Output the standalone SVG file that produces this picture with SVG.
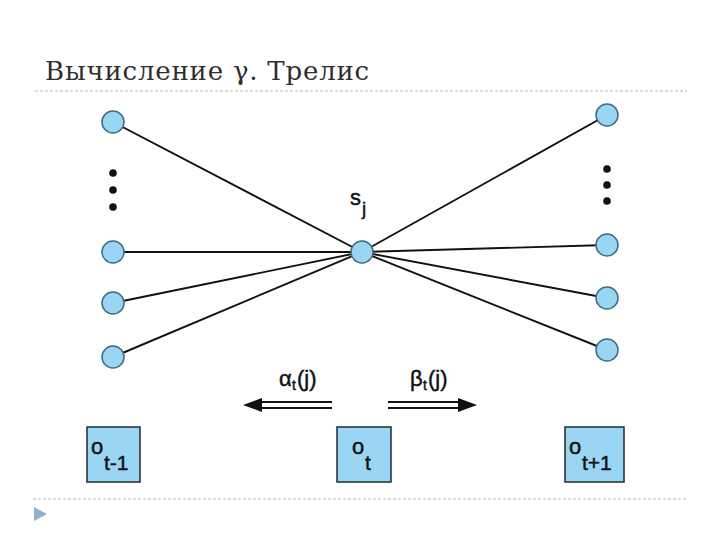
<svg xmlns="http://www.w3.org/2000/svg" width="720" height="540" viewBox="0 0 720 540">
<defs>
<style>
.st{fill:#9ad6f4;stroke:#3f6c82;stroke-width:1.5}
.bx{fill:#9ad6f4;stroke:#1e2a33;stroke-width:1.5}
.ln{stroke:#111;stroke-width:1.9;fill:none}
.dot{fill:#111}
.lab{font-family:"Liberation Sans",Arial,sans-serif;fill:#111;stroke:#111;stroke-width:0.45}
.dash{stroke:#bbb;stroke-width:1;stroke-dasharray:3 2}
</style>
</defs>
<rect width="720" height="540" fill="#fff"/>
<text x="45" y="80" font-family="DejaVu Serif, 'Liberation Serif', serif" font-size="26" letter-spacing="0.8" fill="#2e2e2e">Вычисление γ. Трелис</text>
<line class="dash" x1="35" y1="91" x2="687" y2="91"/>
<line class="dash" x1="33" y1="499" x2="687" y2="499"/>
<polygon points="34,507 47,514 34,521" fill="#8fb0cf"/>
<g id="connectors">
<line class="ln" x1="113" y1="122" x2="362" y2="252"/>
<line class="ln" x1="113" y1="252" x2="362" y2="252"/>
<line class="ln" x1="113" y1="303" x2="362" y2="252"/>
<line class="ln" x1="113" y1="357" x2="362" y2="252"/>
<line class="ln" x1="362" y1="252" x2="607" y2="115"/>
<line class="ln" x1="362" y1="252" x2="607" y2="245"/>
<line class="ln" x1="362" y1="252" x2="607" y2="298"/>
<line class="ln" x1="362" y1="252" x2="607" y2="350"/>
</g>
<g id="left-nodes">
<circle class="st" cx="113" cy="122" r="11"/>
<circle class="dot" cx="113" cy="173" r="3.8"/>
<circle class="dot" cx="113" cy="190" r="3.8"/>
<circle class="dot" cx="113" cy="207" r="3.8"/>
<circle class="st" cx="113" cy="252" r="11"/>
<circle class="st" cx="113" cy="303" r="11"/>
<circle class="st" cx="113" cy="357" r="11"/>
</g>
<g id="right-nodes">
<circle class="st" cx="607" cy="115" r="11"/>
<circle class="dot" cx="607" cy="169" r="3.8"/>
<circle class="dot" cx="607" cy="185" r="3.8"/>
<circle class="dot" cx="607" cy="201" r="3.8"/>
<circle class="st" cx="607" cy="245" r="11"/>
<circle class="st" cx="607" cy="298" r="11"/>
<circle class="st" cx="607" cy="350" r="11"/>
</g>
<g id="sj">
<circle class="st" cx="362" cy="252" r="11"/>
<text class="lab" x="350" y="205" font-size="22">s</text>
<text class="lab" x="362" y="215" font-size="19">j</text>
</g>
<g id="alpha">
<text class="lab" x="279" y="386" font-size="22">α</text>
<text class="lab" x="292" y="390" font-size="14">t</text>
<text class="lab" x="297" y="386" font-size="22">(j)</text>
<line class="ln" x1="258" y1="402" x2="332" y2="402"/>
<line class="ln" x1="258" y1="408" x2="332" y2="408"/>
<polygon points="243,405 262,398 262,412" fill="#111"/>
</g>
<g id="beta">
<text class="lab" x="410" y="386" font-size="22">β</text>
<text class="lab" x="423" y="390" font-size="14">t</text>
<text class="lab" x="428" y="386" font-size="22">(j)</text>
<line class="ln" x1="388" y1="402" x2="462" y2="402"/>
<line class="ln" x1="388" y1="408" x2="462" y2="408"/>
<polygon points="477,405 458,398 458,412" fill="#111"/>
</g>
<g id="o-prev">
<rect class="bx" x="87" y="427" width="53" height="55"/>
<text class="lab" x="91" y="454" font-size="22">o</text>
<text class="lab" x="104" y="470" font-size="21">t-1</text>
</g>
<g id="o-t">
<rect class="bx" x="337" y="427" width="54" height="55"/>
<text class="lab" x="352" y="454" font-size="22">o</text>
<text class="lab" x="365" y="470" font-size="21">t</text>
</g>
<g id="o-next">
<rect class="bx" x="565" y="427" width="59" height="55"/>
<text class="lab" x="569" y="454" font-size="22">o</text>
<text class="lab" x="582" y="470" font-size="21">t+1</text>
</g>
</svg>
